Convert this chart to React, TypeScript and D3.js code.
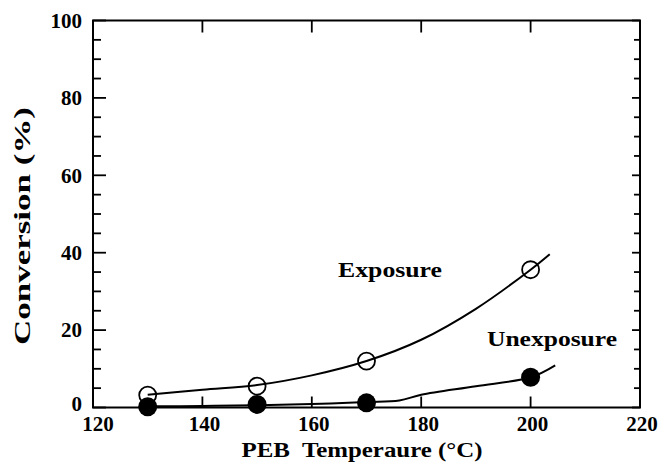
import React from "react";
import * as d3 from "d3";

// measured points
const tempPoints = [130, 150, 170, 200];
const exposure = [3.2, 5.5, 12.0, 35.6];
const unexposure = [0.2, 0.8, 1.2, 7.8];

// hand-drawn fit curves
const exposureFitX = [130, 140, 150, 160, 170, 180, 190, 200, 203.5];
const exposureFitY = [3.3, 4.6, 5.8, 8.3, 12.0, 17.5, 25.5, 35.6, 39.6];
const unexposureFitX = [130, 140, 150, 160, 170, 176, 180, 190, 200, 204.5];
const unexposureFitY = [0.3, 0.4, 0.6, 0.9, 1.4, 1.8, 3.3, 5.5, 7.8, 10.9];

const xTicks = [120, 140, 160, 180, 200, 220];
const yTicks = [0, 20, 40, 60, 80, 100];
const yMinorTicks = d3.range(0, 101, 5);

const font = "Liberation Serif";

export default function App() {
  const width = 664;
  const height = 464;
  const margin = { top: 20.5, right: 24, bottom: 56.5, left: 93 };

  const x = d3
    .scaleLinear()
    .domain([120, 220])
    .range([margin.left, width - margin.right]);
  const y = d3
    .scaleLinear()
    .domain([0, 100])
    .range([height - margin.bottom, margin.top]);

  const line = d3
    .line<[number, number]>()
    .x((d) => x(d[0]))
    .y((d) => y(d[1]))
    .curve(d3.curveCatmullRom.alpha(0.5));

  const expFit = exposureFitX.map((t, i) => [t, exposureFitY[i]] as [number, number]);
  const unexpFit = unexposureFitX.map((t, i) => [t, unexposureFitY[i]] as [number, number]);

  const x0 = x(120);
  const x1 = x(220);
  const y0 = y(0);
  const y1 = y(100);

  const textStyle = { fontFamily: font, fontWeight: 700 } as React.CSSProperties;

  return (
    <svg
      width={width}
      height={height}
      style={{ position: "absolute", left: 0, top: 0, background: "#fff" }}
    >
      {/* frame */}
      <rect
        x={x0}
        y={y1}
        width={x1 - x0}
        height={y0 - y1}
        fill="none"
        stroke="#000"
        strokeWidth={2}
      />

      {/* x ticks, bottom and top, inward */}
      {xTicks.slice(1, -1).map((t) => (
        <g key={"xt" + t}>
          <line x1={x(t)} x2={x(t)} y1={y0} y2={y0 - 11} stroke="#000" strokeWidth={1.8} />
          <line x1={x(t)} x2={x(t)} y1={y1} y2={y1 + 12} stroke="#000" strokeWidth={1.8} />
        </g>
      ))}

      {/* y ticks, left and right */}
      {yMinorTicks.map((t) => {
        const major = t % 20 === 0;
        return (
          <g key={"yt" + t}>
            <line x1={x0} x2={x0 + (major ? 13 : 8)} y1={y(t)} y2={y(t)} stroke="#000" strokeWidth={1.8} />
            <line x1={x1} x2={x1 - (major ? 8 : 6)} y1={y(t)} y2={y(t)} stroke="#000" strokeWidth={1.8} />
          </g>
        );
      })}

      {/* tick labels */}
      {xTicks.map((t) => (
        <text
          key={"xl" + t}
          x={x(t) + (t === 120 ? 5 : 2)}
          y={431}
          textAnchor="middle"
          fontSize={21}
          style={textStyle}
        >
          {t}
        </text>
      ))}
      {yTicks.map((t) => (
        <text
          key={"yl" + t}
          x={x0 - 11}
          y={y(t) - (t === 0 ? 4 : 0)}
          dy="0.35em"
          textAnchor="end"
          fontSize={21}
          style={textStyle}
        >
          {t}
        </text>
      ))}

      {/* axis titles */}
      <text
        x={362}
        y={457}
        textAnchor="middle"
        fontSize={22}
        textLength={241}
        lengthAdjust="spacingAndGlyphs"
        style={{ ...textStyle, whiteSpace: "pre" }}
      >
        PEB  Temperaure (°C)
      </text>
      <text
        transform={`translate(30, 226) rotate(-90)`}
        textAnchor="middle"
        fontSize={23}
        textLength={238}
        lengthAdjust="spacingAndGlyphs"
        style={textStyle}
      >
        Conversion (%)
      </text>

      {/* fit curves */}
      <path d={line(expFit) ?? ""} fill="none" stroke="#000" strokeWidth={2} />
      <path d={line(unexpFit) ?? ""} fill="none" stroke="#000" strokeWidth={2} />

      {/* points */}
      {tempPoints.map((t, i) => (
        <circle
          key={"e" + t}
          cx={x(t)}
          cy={y(exposure[i])}
          r={8.5}
          fill="none"
          stroke="#000"
          strokeWidth={1.8}
        />
      ))}
      {tempPoints.map((t, i) => (
        <circle key={"u" + t} cx={x(t)} cy={y(unexposure[i])} r={9.5} fill="#000" />
      ))}

      {/* series labels */}
      <text
        x={338}
        y={277}
        fontSize={20}
        textLength={104}
        lengthAdjust="spacingAndGlyphs"
        style={textStyle}
      >
        Exposure
      </text>
      <text
        x={487}
        y={346}
        fontSize={20}
        textLength={130}
        lengthAdjust="spacingAndGlyphs"
        style={textStyle}
      >
        Unexposure
      </text>
    </svg>
  );
}
